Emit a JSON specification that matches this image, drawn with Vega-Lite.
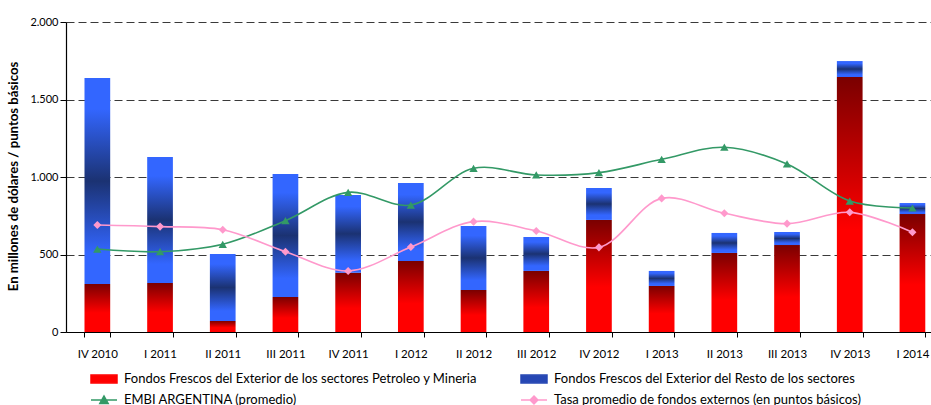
{
  "$schema": "https://vega.github.io/schema/vega-lite/v6.json",
  "width": 865,
  "height": 310,
  "autosize": {"type": "none"},
  "padding": {"left": 66, "top": 22, "right": 0, "bottom": 73},
  "background": "white",
  "config": {
    "font": "Lato",
    "view": {"stroke": null},
    "axis": {"labelFont": "Lato", "titleFont": "Lato", "labelColor": "#000", "titleColor": "#000"}
  },
  "datasets": {
    "q": [
      {"trimestre": "IV 2010", "petro": 310, "resto": 1329, "embi": 535, "tasa": 690},
      {"trimestre": "I 2011", "petro": 316, "resto": 813, "embi": 518, "tasa": 680},
      {"trimestre": "II 2011", "petro": 71, "resto": 432, "embi": 566, "tasa": 660},
      {"trimestre": "III 2011", "petro": 226, "resto": 793, "embi": 718, "tasa": 518},
      {"trimestre": "IV 2011", "petro": 383, "resto": 501, "embi": 901, "tasa": 394},
      {"trimestre": "I 2012", "petro": 458, "resto": 503, "embi": 819, "tasa": 548},
      {"trimestre": "II 2012", "petro": 271, "resto": 413, "embi": 1056, "tasa": 712},
      {"trimestre": "III 2012", "petro": 394, "resto": 219, "embi": 1013, "tasa": 652},
      {"trimestre": "IV 2012", "petro": 723, "resto": 206, "embi": 1028, "tasa": 546},
      {"trimestre": "I 2013", "petro": 297, "resto": 97, "embi": 1114, "tasa": 862},
      {"trimestre": "II 2013", "petro": 510, "resto": 129, "embi": 1192, "tasa": 766},
      {"trimestre": "III 2013", "petro": 561, "resto": 84, "embi": 1084, "tasa": 699},
      {"trimestre": "IV 2013", "petro": 1645, "resto": 103, "embi": 845, "tasa": 772},
      {"trimestre": "I 2014", "petro": 761, "resto": 71, "embi": 800, "tasa": 643}
    ]
  },
  "data": {"name": "q"},
  "encoding": {
    "x": {
      "field": "trimestre",
      "type": "nominal",
      "sort": null,
      "scale": {"paddingInner": 0.59, "paddingOuter": 0.193, "align": 0.764},
      "axis": {
        "title": null,
        "labelAngle": 0,
        "labelFontSize": 11.5,
        "labelPadding": 11,
        "tickBand": "extent",
        "tickSize": 5,
        "tickColor": "#000",
        "domainColor": "#000",
        "domainWidth": 1.2,
        "grid": false
      }
    }
  },
  "layer": [
    {
      "transform": [
        {"fold": ["petro", "resto"], "as": ["serie", "valor"]},
        {"stack": "valor", "groupby": ["trimestre"], "sort": [{"field": "serie", "order": "ascending"}], "as": ["v0", "v1"]}
      ],
      "encoding": {
        "y": {
          "field": "v1",
          "type": "quantitative",
          "title": "En millones de dólares / puntos básicos",
          "scale": {"domain": [0, 2000], "nice": false},
          "axis": {
            "titleFontSize": 13.2,
            "titleFontWeight": "bold",
            "titlePadding": 9,
            "titleY": 154,
            "values": [0, 250, 500, 750, 1000, 1250, 1500, 1750, 2000],
            "labelExpr": "replace(format(datum.value, ','), ',', '.')",
            "labelFontSize": 11,
            "labelPadding": 2,
            "tickSize": 6,
            "tickColor": "#000",
            "domainColor": "#000",
            "domainWidth": 1.2,
            "grid": true,
            "gridDash": [8, 4],
            "gridColor": "#3a3a3a",
            "gridWidth": 1
          }
        },
        "y2": {"field": "v0"}
      },
      "layer": [
        {
          "transform": [{"filter": "datum.serie === 'petro'"}],
          "mark": {
            "type": "bar",
            "fill": {
              "gradient": "linear", "x1": 0, "y1": 0, "x2": 0, "y2": 1,
              "stops": [
                {"offset": 0, "color": "#7a0000"},
                {"offset": 0.6, "color": "#ff0000"},
                {"offset": 1, "color": "#ff0000"}
              ]
            }
          }
        },
        {
          "transform": [{"filter": "datum.serie === 'resto'"}],
          "mark": {
            "type": "bar",
            "fill": {
              "gradient": "linear", "x1": 0, "y1": 0, "x2": 0, "y2": 1,
              "stops": [
                {"offset": 0, "color": "#3366ff"},
                {"offset": 0.15, "color": "#3366ff"},
                {"offset": 0.5, "color": "#1b3272"},
                {"offset": 0.85, "color": "#3366ff"},
                {"offset": 1, "color": "#3366ff"}
              ]
            }
          }
        }
      ]
    },
    {
      "mark": {"type": "line", "interpolate": "catmull-rom", "strokeWidth": 1.6, "stroke": "#339966"},
      "encoding": {"y": {"field": "embi", "type": "quantitative", "title": "En millones de dólares / puntos básicos"}}
    },
    {
      "mark": {"type": "line", "interpolate": "catmull-rom", "strokeWidth": 1.6, "stroke": "#ff99cc"},
      "encoding": {"y": {"field": "tasa", "type": "quantitative", "title": "En millones de dólares / puntos básicos"}}
    },
    {
      "mark": {"type": "point", "filled": true, "size": 70, "opacity": 1, "shape": "triangle-up", "fill": "#339966"},
      "encoding": {"y": {"field": "embi", "type": "quantitative", "title": "En millones de dólares / puntos básicos"}}
    },
    {
      "mark": {"type": "point", "filled": true, "size": 65, "opacity": 1, "shape": "diamond", "fill": "#ff99cc"},
      "encoding": {"y": {"field": "tasa", "type": "quantitative", "title": "En millones de dólares / puntos básicos"}}
    },
    {
      "transform": [{"fold": ["petro", "resto", "embi", "tasa"], "as": ["serie", "valor"]}],
      "mark": {"type": "point", "opacity": 0, "strokeWidth": 1.5},
      "encoding": {
        "y": {"field": "valor", "type": "quantitative", "title": "En millones de dólares / puntos básicos"},
        "fill": {
          "field": "serie",
          "type": "nominal",
          "scale": {"domain": ["petro", "resto", "embi", "tasa"], "range": ["#ff0000", "#2647b4", "#339966", "#ff99cc"]},
          "legend": {
            "title": null,
            "orient": "none",
            "legendX": 24,
            "legendY": 343,
            "direction": "horizontal",
            "columns": 2,
            "columnPadding": 40,
            "rowPadding": 0,
            "labelFontSize": 13,
            "labelColor": "#000",
            "labelOffset": 6,
            "labelLimit": 500,
            "symbolSize": 676,
            "symbolOpacity": 1,
            "symbolStrokeWidth": 1.5,
            "labelExpr": "datum.value === 'petro' ? 'Fondos Frescos del Exterior de los sectores Petroleo y Mineria' : datum.value === 'resto' ? 'Fondos Frescos del Exterior del Resto de los sectores' : datum.value === 'embi' ? 'EMBI ARGENTINA (promedio)' : 'Tasa promedio de fondos externos (en puntos básicos)'"
          }
        },
        "stroke": {
          "field": "serie",
          "type": "nominal",
          "scale": {"domain": ["petro", "resto", "embi", "tasa"], "range": ["#ff0000", "#2647b4", "#339966", "#ff99cc"]},
          "legend": {
            "title": null,
            "orient": "none",
            "legendX": 24,
            "legendY": 343,
            "direction": "horizontal",
            "columns": 2,
            "columnPadding": 40,
            "rowPadding": 0,
            "labelFontSize": 13,
            "labelColor": "#000",
            "labelOffset": 6,
            "labelLimit": 500,
            "symbolSize": 676,
            "symbolOpacity": 1,
            "symbolStrokeWidth": 1.5,
            "labelExpr": "datum.value === 'petro' ? 'Fondos Frescos del Exterior de los sectores Petroleo y Mineria' : datum.value === 'resto' ? 'Fondos Frescos del Exterior del Resto de los sectores' : datum.value === 'embi' ? 'EMBI ARGENTINA (promedio)' : 'Tasa promedio de fondos externos (en puntos básicos)'"
          }
        },
        "shape": {
          "field": "serie",
          "type": "nominal",
          "scale": {"domain": ["petro", "resto", "embi", "tasa"], "range": ["M-1,-0.3H1V0.3H-1Z", "M-1,-0.3H1V0.3H-1Z", "M-1,0H1M-0.32,0.26L0,-0.3L0.32,0.26Z", "M-1,0H1M0,-0.3L0.3,0L0,0.3L-0.3,0Z"]},
          "legend": {
            "title": null,
            "orient": "none",
            "legendX": 24,
            "legendY": 343,
            "direction": "horizontal",
            "columns": 2,
            "columnPadding": 40,
            "rowPadding": 0,
            "labelFontSize": 13,
            "labelColor": "#000",
            "labelOffset": 6,
            "labelLimit": 500,
            "symbolSize": 676,
            "symbolOpacity": 1,
            "symbolStrokeWidth": 1.5,
            "labelExpr": "datum.value === 'petro' ? 'Fondos Frescos del Exterior de los sectores Petroleo y Mineria' : datum.value === 'resto' ? 'Fondos Frescos del Exterior del Resto de los sectores' : datum.value === 'embi' ? 'EMBI ARGENTINA (promedio)' : 'Tasa promedio de fondos externos (en puntos básicos)'"
          }
        }
      }
    }
  ]
}
